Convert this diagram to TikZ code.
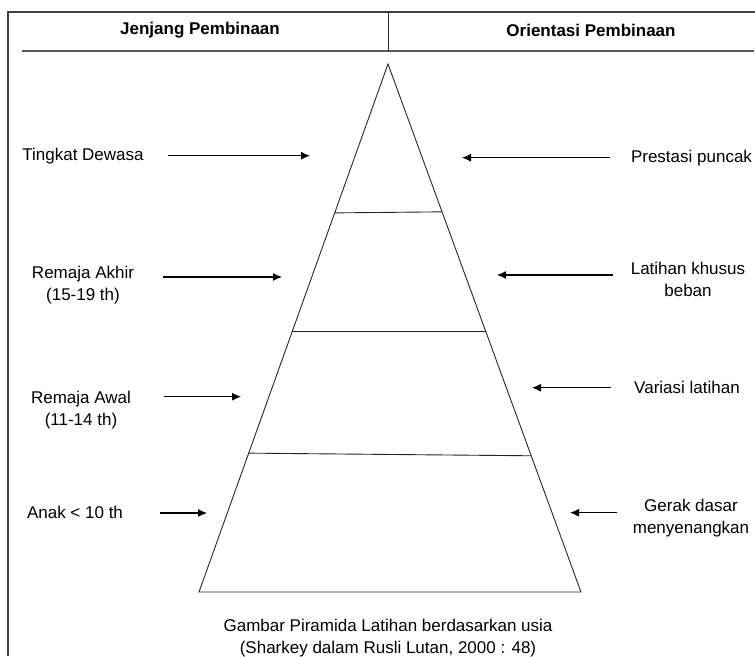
\documentclass[tikz,border=0pt]{standalone}
\usepackage{fontspec}
\setmainfont{Liberation Sans}
\usetikzlibrary{arrows.meta,calc}
\begin{document}
\begin{tikzpicture}[x=1pt,y=-1pt,
  lbl/.style={inner sep=0pt,align=center,font=\fontsize{17}{22}\selectfont},
  hdr/.style={inner sep=0pt,font=\fontsize{17}{22}\selectfont\bfseries},
  frameline/.style={draw=black!75,line width=1.1pt},
  pyr/.style={draw=black!85,line width=0.9pt},
  arr/.style={draw=black,line width=1.1pt,-{Latex[length=9pt,width=8pt]}}]
\useasboundingbox (0,0) rectangle (755,656);
% frame
\coordinate (tl) at (8,12);
\coordinate (tr) at (755,12);
\coordinate (bl0) at (8,656);
\coordinate (hl) at (22,51);
\coordinate (hr) at (754,51);
\coordinate (dt) at (388,12);
\coordinate (db) at (388,51);
\draw[frameline] (bl0) -- (tl) -- (tr);
\draw[frameline,draw=black!65] (hl) -- (hr);
\draw[pyr] (dt) -- (db);
% headers
\node[hdr] (h1) at (200,30) {Jenjang Pembinaan};
\node[hdr] (h2) at (591,30) {Orientasi Pembinaan};
% pyramid
\coordinate (apex) at (388,64);
\coordinate (bl) at (199,592);
\coordinate (br) at (581,592);
\draw[pyr,line join=miter] (apex) -- (bl) -- (br) -- cycle;
\draw[pyr] ($(apex)!0.282!(bl)$) -- ($(apex)!0.280!(br)$);
\draw[pyr] ($(apex)!0.506!(bl)$) -- ($(apex)!0.506!(br)$);
\draw[pyr] ($(apex)!0.737!(bl)$) -- ($(apex)!0.742!(br)$);
% left labels
\node[lbl] (l1) at (83,156.5) {Tingkat Dewasa};
\node[lbl] (l2) at (83,285.5) {Remaja Akhir\\(15-19 th)};
\node[lbl] (l3) at (81,410) {Remaja Awal\\(11-14 th)};
\node[lbl] (l4) at (75,512.5) {Anak < 10 th};
% right labels
\node[lbl] (r1) at (691.5,158.5) {Prestasi puncak};
\node[lbl] (r2) at (688,279) {Latihan khusus\\beban};
\node[lbl] (r3) at (687,387.5) {Variasi latihan};
\node[lbl] (r4) at (691,518) {Gerak dasar\\menyenangkan};
% caption
\node[lbl] (cap) at (388,638) {Gambar Piramida Latihan berdasarkan usia\\(Sharkey dalam Rusli Lutan, 2000 : 48)};
% arrow end points
\coordinate (a1s) at (168,155.7); \coordinate (a1e) at (310,155.7);
\coordinate (a2s) at (163,277);   \coordinate (a2e) at (282,277);
\coordinate (a3s) at (164,396.7); \coordinate (a3e) at (241,396.7);
\coordinate (a4s) at (160,513);   \coordinate (a4e) at (207,513);
\coordinate (b1s) at (610,157.7); \coordinate (b1e) at (462,157.7);
\coordinate (b2s) at (613,275);   \coordinate (b2e) at (497,275);
\coordinate (b3s) at (611,387.7); \coordinate (b3e) at (532,387.7);
\coordinate (b4s) at (617,512.7); \coordinate (b4e) at (570,512.7);
\draw[arr] (a1s) -- (a1e);
\draw[arr] (a2s) -- (a2e);
\draw[arr] (a3s) -- (a3e);
\draw[arr] (a4s) -- (a4e);
\draw[arr] (b1s) -- (b1e);
\draw[arr] (b2s) -- (b2e);
\draw[arr] (b3s) -- (b3e);
\draw[arr] (b4s) -- (b4e);
\end{tikzpicture}
\end{document}
